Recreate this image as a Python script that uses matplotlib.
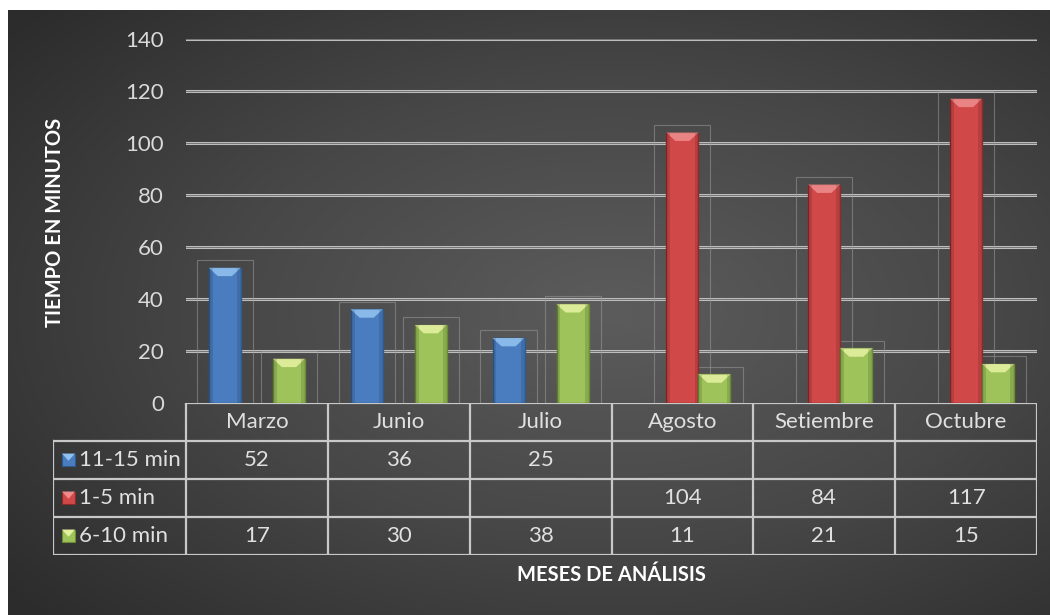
import numpy as np
import matplotlib
matplotlib.use("Agg")
import matplotlib.pyplot as plt
from matplotlib.patches import Polygon, Rectangle
from matplotlib.colors import LinearSegmentedColormap

plt.rcParams['font.family'] = ['Lato', 'DejaVu Sans']

# ---------------- data ----------------
categories = ["Marzo", "Junio", "Julio", "Agosto", "Setiembre", "Octubre"]
series_names = ["11-15 min", "1-5 min", "6-10 min"]
s_11_15 = [52, 36, 25, None, None, None]
s_1_5 = [None, None, None, 104, 84, 117]
s_6_10 = [17, 30, 38, 11, 21, 15]
series_values = [s_11_15, s_1_5, s_6_10]
series_colors = ["#4a7dc0", "#d04848", "#9dc35a"]
bevel_colors = ["#8fc0ee", "#ee8a8a", "#e4f0a0"]
edge_colors = ["#2f5a8e", "#8e2a2a", "#6b8a35"]
yticks = [0, 20, 40, 60, 80, 100, 120, 140]
ylabel = "TIEMPO EN MINUTOS"
xlabel = "MESES DE ANÁLISIS"

W, H = 1050, 615
fig = plt.figure(figsize=(W / 100, H / 100), dpi=100)
fig.patch.set_facecolor("white")

# background radial gradient
bg = fig.add_axes([8 / W, 0, (W - 8) / W, (H - 10) / H])
bg.set_axis_off()
yy, xx = np.mgrid[0:1:300j, 0:1:500j]
r = np.sqrt(((xx - 0.58) / 0.75) ** 2 + ((yy - 0.5) / 0.75) ** 2)
r = np.clip(r, 0, 1)
cmap = LinearSegmentedColormap.from_list("bgc", ["#5c5c5c", "#474747", "#2c2c2c"])
bg.imshow(r, cmap=cmap, aspect="auto", extent=[0, 1, 0, 1], interpolation="bilinear")
bg.set_xlim(0, 1)
bg.set_ylim(0, 1)

# main axes
px_left, px_right = 186, 1037
px_y0, px_ytop = 403, 39
ax = fig.add_axes([px_left / W, 1 - px_y0 / H, (px_right - px_left) / W, (px_y0 - px_ytop) / H])
ax.patch.set_alpha(0)
ax.set_xlim(-0.5, len(categories) - 0.5)
ax.set_ylim(0, 140)
for s in ax.spines.values():
    s.set_visible(False)
ax.set_xticks([])
ax.set_yticks(yticks)
ax.set_yticklabels([str(t) for t in yticks], color="#dadada", fontsize=16)
ax.tick_params(axis="y", length=0, pad=16)
for t in yticks[1:]:
    ax.axhline(t, color="#bdbdbd", lw=2.2, zorder=1)
    ax.axhline(t, color="#6a6a6a", lw=0.6, zorder=1)

x = np.arange(len(categories))
offsets = [-0.226, 0.0, 0.226]
bw = 0.226
pad_x = 0.085
pad_top = 3.0
for si, vals in enumerate(series_values):
    xs = [x[i] + offsets[si] for i, v in enumerate(vals) if v is not None]
    hs = [v for v in vals if v is not None]
    # faint glow boxes
    ax.bar(xs, [h + pad_top for h in hs], width=bw + 2 * pad_x, fill=False,
           edgecolor="#9a9a9a", linewidth=0.8, alpha=0.55, zorder=2)
    bars = ax.bar(xs, hs, width=bw, color=series_colors[si],
                  edgecolor=edge_colors[si], linewidth=1.0, zorder=3)
    for b in bars:
        bx, bwid, bh = b.get_x(), b.get_width(), b.get_height()
        bev_w = bwid * 0.28
        bev_h = 3.2
        poly = Polygon([[bx, bh], [bx + bwid, bh], [bx + bwid - bev_w, bh - bev_h],
                        [bx + bev_w, bh - bev_h]], closed=True,
                       facecolor=bevel_colors[si], edgecolor="none", alpha=0.9, zorder=4)
        ax.add_patch(poly)
        # subtle side shading
        ax.add_patch(Rectangle((bx, 0), bwid * 0.12, bh - 0.1, facecolor="black",
                               alpha=0.12, edgecolor="none", zorder=4))
        ax.add_patch(Rectangle((bx + bwid * 0.88, 0), bwid * 0.12, bh - 0.1, facecolor="black",
                               alpha=0.12, edgecolor="none", zorder=4))

# ---------------- data table ----------------
col_w_px = (px_right - px_left) / len(categories)
leg_left_px = 53
row_h_px = 38
tab_top_px = px_y0
n_rows = 4
tab_bot_px = tab_top_px + n_rows * row_h_px
leg_cols = (px_left - leg_left_px) / col_w_px
axt = fig.add_axes([leg_left_px / W, 1 - tab_bot_px / H, (px_right - leg_left_px) / W,
                    (tab_bot_px - tab_top_px) / H])
axt.set_axis_off()
axt.patch.set_alpha(0)
x0 = -0.5 - leg_cols
axt.set_xlim(x0, len(categories) - 0.5)
axt.set_ylim(n_rows, 0)
lc = "#c8c8c8"
lw = 1.6
# horizontal lines
axt.plot([-0.5, len(categories) - 0.5], [0, 0], color=lc, lw=lw)
for rr in range(1, n_rows + 1):
    axt.plot([x0, len(categories) - 0.5], [rr, rr], color=lc, lw=lw)
# vertical lines
axt.plot([x0, x0], [1, n_rows], color=lc, lw=lw)
for c in range(len(categories) + 1):
    axt.plot([c - 0.5, c - 0.5], [0, n_rows], color=lc, lw=lw)

tc = "#e0e0e0"
for i, cat in enumerate(categories):
    axt.text(i, 0.5, cat, ha="center", va="center", color=tc, fontsize=16)
for si, vals in enumerate(series_values):
    for i, v in enumerate(vals):
        if v is not None:
            axt.text(i, si + 1.5, str(v), ha="center", va="center", color=tc, fontsize=16)
    # legend key
    kx = x0 + 9 / col_w_px
    kw = 13 / col_w_px
    axt.add_patch(Rectangle((kx, si + 1.5 - 0.17), kw, 0.34, facecolor=series_colors[si],
                            edgecolor=edge_colors[si], lw=0.8))
    axt.add_patch(Polygon([[kx, si + 1.5 - 0.17], [kx + kw, si + 1.5 - 0.17],
                           [kx + kw * 0.5, si + 1.5 + 0.02]], closed=True,
                          facecolor=bevel_colors[si], edgecolor="none"))
    axt.text(kx + kw + 4 / col_w_px, si + 1.5, series_names[si], ha="left", va="center",
             color=tc, fontsize=16)

# axis titles
fig.text(55 / W, 1 - 222 / H, ylabel, rotation=90, ha="center", va="center",
         color="white", fontsize=14.5, fontweight="bold")
fig.text(611 / W, 1 - 575 / H, xlabel, ha="center", va="center",
         color="white", fontsize=14.5, fontweight="bold")

fig.savefig("out.png", dpi=100)
